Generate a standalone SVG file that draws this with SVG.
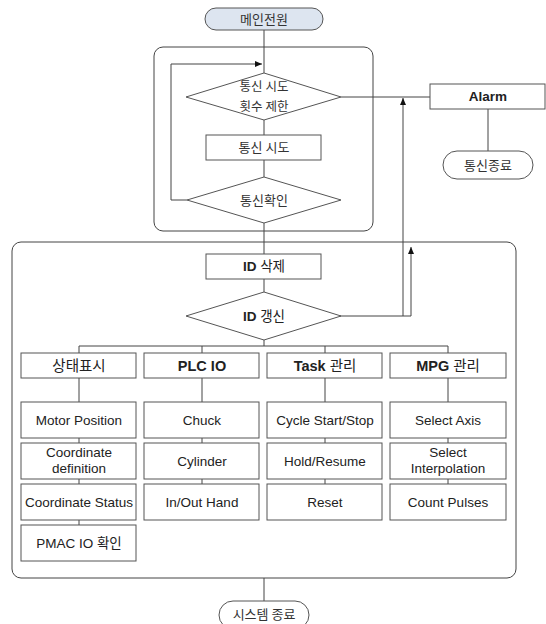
<svg xmlns="http://www.w3.org/2000/svg" width="546" height="624" viewBox="0 0 546 624">
<defs>
<marker id="arr" markerWidth="8" markerHeight="8" refX="7" refY="4" orient="auto" markerUnits="userSpaceOnUse">
<path d="M0,1 L7,4 L0,7 Z" fill="#111"/>
</marker>
<style>
.box{fill:#fff;stroke:#555;stroke-width:1}
.frame{fill:none;stroke:#444;stroke-width:1}
.conn{fill:none;stroke:#444;stroke-width:1}
.t{font-family:"Liberation Sans","Noto Sans CJK KR",sans-serif;font-size:13.5px;fill:#222;text-anchor:middle}
.k{font-family:"Noto Sans CJK KR","Liberation Sans",sans-serif;font-size:13px;fill:#333;text-anchor:middle}
.s{font-size:12.5px}
.c{font-size:14.5px}
.b{font-weight:bold}
</style>
</defs>
<rect class="frame" x="154" y="47" width="219" height="184" rx="9"/>
<rect class="frame" x="12" y="242" width="504" height="336" rx="9"/>
<g id="connectors">
<path class="conn" d="M264,30 V73"/>
<path class="conn" d="M187,200 H171 V64 H262" marker-end="url(#arr)"/>
<path class="conn" d="M264,120 V135"/>
<path class="conn" d="M264,160 V177"/>
<path class="conn" d="M264,223 V254"/>
<path class="conn" d="M264,279 V292"/>
<path class="conn" d="M264,340 V346"/>
<path class="conn" d="M79,353 V346 H448 V353 M202,346 V353 M325,346 V353"/>
<path class="conn" d="M341,97 H430"/>
<path class="conn" d="M488,109 V151"/>
<path class="conn" d="M340,316 H411 V247" marker-end="url(#arr)"/>
<path class="conn" d="M403,316 V98" marker-end="url(#arr)"/>
<path class="conn" d="M79,378 V402 M79,438 V443 M79,479 V484 M79,520 V525"/>
<path class="conn" d="M202,378 V402 M202,438 V443 M202,479 V484"/>
<path class="conn" d="M325,378 V402 M325,438 V443 M325,479 V484"/>
<path class="conn" d="M448,378 V402 M448,438 V443 M448,479 V484"/>
<path class="conn" d="M264,578 V601"/>
</g>
<g id="main-power"><rect x="205" y="8" width="118" height="22" rx="11" fill="#dde5f0" stroke="#555"/><text class="k" x="264" y="24">메인전원</text></g>
<g id="retry-limit"><polygon class="box" points="186,97 264,73 341,97 264,120"/><text class="k s" x="264" y="91">통신 시도</text><text class="k s" x="264" y="111">횟수 제한</text></g>
<g id="comm-try"><rect class="box" x="206" y="135" width="115" height="25"/><text class="k" x="264" y="152">통신 시도</text></g>
<g id="comm-check"><polygon class="box" points="187,200 264,177 341,200 264,223"/><text class="k" x="264" y="205">통신확인</text></g>
<g id="alarm"><rect class="box" x="430" y="84" width="115" height="25"/><text class="t b" x="488" y="101">Alarm</text></g>
<g id="comm-end"><rect class="box" x="443" y="151" width="90" height="28" rx="14"/><text class="k" x="488" y="170">통신종료</text></g>
<g id="id-delete"><rect class="box" x="206" y="254" width="115" height="25"/><text class="t" x="264" y="271"><tspan class="b">ID</tspan> 삭제</text></g>
<g id="id-update"><polygon class="box" points="186,316 264,292 341,316 264,340"/><text class="t" x="264" y="321"><tspan class="b">ID</tspan> 갱신</text></g>
<g id="cat-status"><rect class="box" x="21" y="353" width="115" height="25"/><text class="t c" x="79" y="371">상태표시</text></g>
<g id="cat-plc"><rect class="box" x="144" y="353" width="115" height="25"/><text class="t c b" x="202" y="371">PLC IO</text></g>
<g id="cat-task"><rect class="box" x="267" y="353" width="115" height="25"/><text class="t c" x="325" y="371"><tspan class="b">Task</tspan> 관리</text></g>
<g id="cat-mpg"><rect class="box" x="390" y="353" width="116" height="25"/><text class="t c" x="448" y="371"><tspan class="b">MPG</tspan> 관리</text></g>
<g id="motor-position"><rect class="box" x="21" y="402" width="115" height="36"/><text class="t" x="79" y="425">Motor Position</text></g>
<g id="coord-def"><rect class="box" x="21" y="443" width="115" height="36"/><text class="t" x="79" y="457">Coordinate</text><text class="t" x="79" y="473">definition</text></g>
<g id="coord-status"><rect class="box" x="21" y="484" width="115" height="36"/><text class="t" x="79" y="507">Coordinate Status</text></g>
<g id="pmac-io"><rect class="box" x="21" y="525" width="115" height="36"/><text class="t" x="79" y="548">PMAC IO 확인</text></g>
<g id="chuck"><rect class="box" x="144" y="402" width="115" height="36"/><text class="t" x="202" y="425">Chuck</text></g>
<g id="cylinder"><rect class="box" x="144" y="443" width="115" height="36"/><text class="t" x="202" y="466">Cylinder</text></g>
<g id="inout-hand"><rect class="box" x="144" y="484" width="115" height="36"/><text class="t" x="202" y="507">In/Out Hand</text></g>
<g id="cycle-start"><rect class="box" x="267" y="402" width="115" height="36"/><text class="t" x="325" y="425">Cycle Start/Stop</text></g>
<g id="hold-resume"><rect class="box" x="267" y="443" width="115" height="36"/><text class="t" x="325" y="466">Hold/Resume</text></g>
<g id="reset"><rect class="box" x="267" y="484" width="115" height="36"/><text class="t" x="325" y="507">Reset</text></g>
<g id="select-axis"><rect class="box" x="390" y="402" width="116" height="36"/><text class="t" x="448" y="425">Select Axis</text></g>
<g id="select-interp"><rect class="box" x="390" y="443" width="116" height="36"/><text class="t" x="448" y="457">Select</text><text class="t" x="448" y="473">Interpolation</text></g>
<g id="count-pulses"><rect class="box" x="390" y="484" width="116" height="36"/><text class="t" x="448" y="507">Count Pulses</text></g>
<g id="system-end"><rect class="box" x="219" y="601" width="90" height="28" rx="14"/><text class="k" x="264" y="619">시스템 종료</text></g>
</svg>
